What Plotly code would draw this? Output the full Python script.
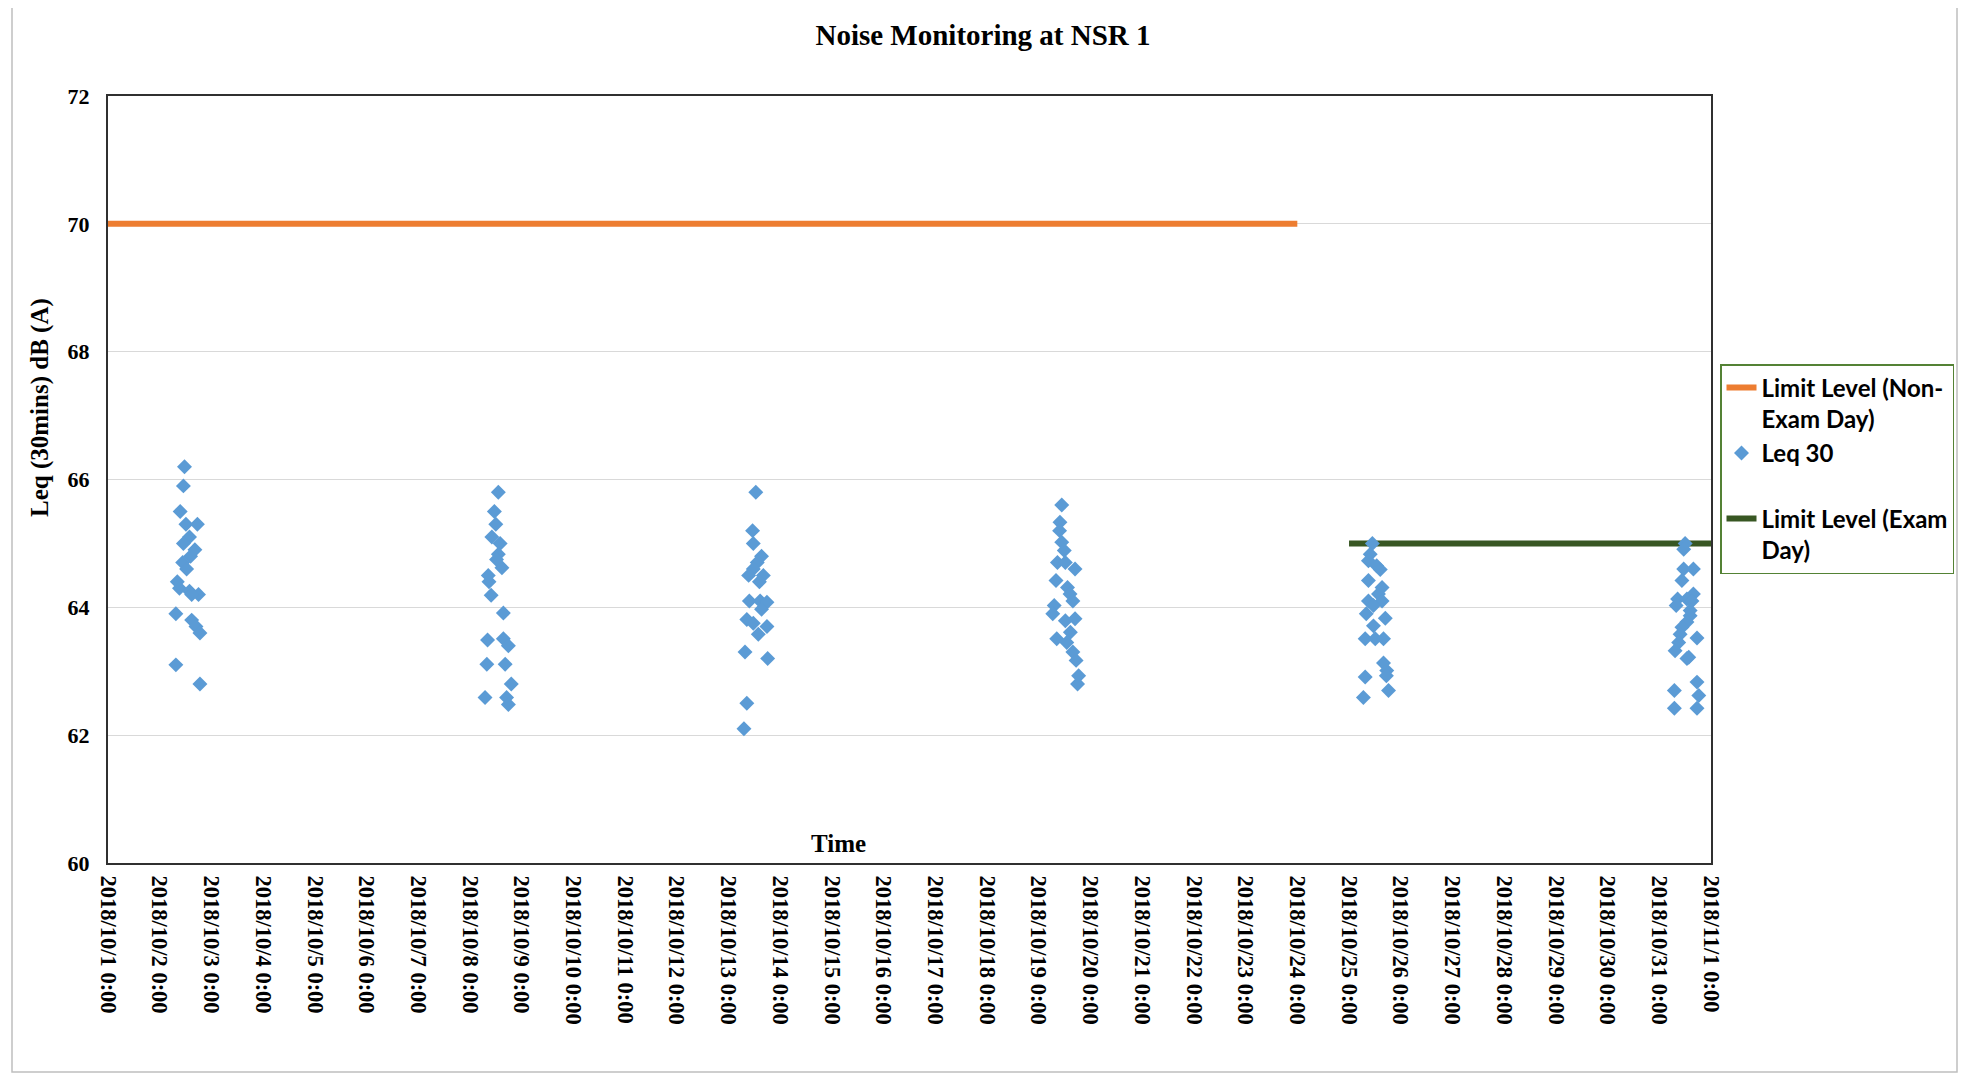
import plotly.graph_objects as go
import pandas as pd

# ---------------- data ----------------
title_text = "Noise Monitoring at NSR 1"
y_title = "Leq (30mins) dB (A)"
x_title = "Time"

limit_non_exam_x = ["2018-10-01 00:00", "2018-10-24 00:00"]
limit_non_exam_y = [70, 70]
limit_exam_x = ["2018-10-25 00:00", "2018-11-01 00:00"]
limit_exam_y = [65, 65]

day1 = "2018-10-02"
day1_times = ["11:30", "11:00", "09:30", "12:10", "17:30", "13:50", "11:00", "16:20", "14:20", "10:40", "12:30",
              "08:10", "09:10", "13:50", "18:00", "14:50", "07:30", "14:50", "16:50", "18:40", "07:30", "18:40"]
day1_values = [66.2, 65.9, 65.5, 65.3, 65.3, 65.1, 65.0, 64.9, 64.8, 64.7, 64.6,
               64.4, 64.3, 64.25, 64.2, 64.2, 63.9, 63.8, 63.7, 63.6, 63.1, 62.8]

day2 = "2018-10-08"
day2_times = ["13:10", "11:20", "12:00", "10:10", "14:00", "13:10", "12:20", "14:50", "08:30", "08:50", "09:50",
              "15:30", "08:10", "15:30", "17:50", "07:50", "16:20", "19:10", "07:00", "17:00", "17:50"]
day2_values = [65.8, 65.5, 65.3, 65.1, 65.0, 64.83, 64.75, 64.62, 64.5, 64.4, 64.19,
               63.91, 63.49, 63.51, 63.4, 63.11, 63.11, 62.8, 62.59, 62.59, 62.48]

day3 = "2018-10-13"
day3_times = ["12:40", "11:10", "11:30", "15:20", "13:20", "11:30", "09:20", "16:10", "14:20", "09:40", "14:40",
              "17:50", "15:20", "08:30", "11:30", "17:50", "13:50", "07:40", "18:10", "08:30", "07:10"]
day3_values = [65.8, 65.2, 65.0, 64.8, 64.7, 64.6, 64.5, 64.5, 64.4, 64.1, 64.1,
               64.08, 63.97, 63.81, 63.75, 63.7, 63.58, 63.3, 63.2, 62.5, 62.1]

day4 = "2018-10-19"
day4_times = ["10:40", "09:50", "09:40", "10:40", "11:50", "08:40", "12:20", "16:50", "08:00", "13:20", "14:30",
              "15:50", "07:10", "06:30", "12:20", "16:50", "14:40", "08:20", "13:00", "15:50", "17:20", "18:30", "18:00"]
day4_values = [65.6, 65.33, 65.2, 65.02, 64.89, 64.7, 64.7, 64.6, 64.42, 64.31, 64.21,
               64.1, 64.03, 63.9, 63.79, 63.82, 63.61, 63.51, 63.45, 63.3, 63.17, 62.93, 62.8]

day5 = "2018-10-25"
day5_times = ["10:50", "09:50", "09:00", "12:50", "14:30", "09:00", "15:20", "13:40", "09:00", "15:20", "11:20",
              "08:00", "16:50", "11:20", "07:30", "12:10", "16:00", "16:00", "17:30", "17:20", "07:30", "18:20", "06:40"]
day5_values = [65.0, 64.83, 64.73, 64.65, 64.59, 64.42, 64.31, 64.21, 64.1, 64.1, 64.03,
               63.9, 63.83, 63.71, 63.51, 63.51, 63.51, 63.13, 63.01, 62.93, 62.91, 62.7, 62.59]

day6 = "2018-10-31"
day6_times = ["12:00", "11:20", "11:20", "15:50", "10:30", "15:50", "08:30", "12:50", "15:10", "07:50", "14:20",
              "14:20", "12:50", "10:30", "09:40", "17:30", "09:00", "07:20", "13:40", "12:50", "17:30", "07:00",
              "18:20", "07:00", "17:30"]
day6_values = [65.0, 64.91, 64.6, 64.6, 64.42, 64.21, 64.13, 64.13, 64.1, 64.03, 63.95,
               63.87, 63.77, 63.69, 63.58, 63.52, 63.45, 63.32, 63.22, 63.2, 62.83, 62.7,
               62.62, 62.42, 62.42]

tick_start = "2018-10-01"
tick_end = "2018-11-01"
y_ticks = [60, 62, 64, 66, 68, 70, 72]

# ---------------- build ----------------
days = [(day1, day1_times, day1_values), (day2, day2_times, day2_values), (day3, day3_times, day3_values),
        (day4, day4_times, day4_values), (day5, day5_times, day5_values), (day6, day6_times, day6_values)]
leq_x, leq_y = [], []
for d, ts, vs in days:
    leq_x += [f"{d} {t}" for t in ts]
    leq_y += vs

tick_dates = pd.date_range(tick_start, tick_end, freq="D")
tick_vals = [d.strftime("%Y-%m-%d") for d in tick_dates]
tick_text = [f"{d.year}/{d.month}/{d.day} 0:00" for d in tick_dates]

serif = "Liberation Serif"
legend_font = "Lato"

# plot area geometry (pixels)
L, T, PW, PH = 100, 88, 1603, 767
W, H = 1966, 1076

fig = go.Figure()
fig.add_trace(go.Scatter(x=limit_non_exam_x, y=limit_non_exam_y, mode="lines",
                         name="Limit Level (Non-<br>Exam Day)", legendrank=1,
                         line=dict(color="#ED7D31", width=6)))
fig.add_trace(go.Scatter(x=limit_exam_x, y=limit_exam_y, mode="lines",
                         name="Limit Level (Exam<br>Day)", legendrank=3,
                         line=dict(color="#385723", width=6)))
fig.add_trace(go.Scatter(x=leq_x, y=leq_y, mode="markers", name="Leq 30<br> ", legendrank=2,
                         marker=dict(symbol="diamond", size=11.5, color="#5B9BD5")))

fig.update_layout(
    width=W, height=H,
    margin=dict(l=L, r=W - L - PW, t=T, b=H - T - PH, autoexpand=False),
    paper_bgcolor="white", plot_bgcolor="white",
    title=dict(text=title_text, x=975 / W, xanchor="center", y=1 - 27 / H, yanchor="middle",
               font=dict(family=serif, size=29, color="black", weight="bold")),
    showlegend=True,
    legend=dict(x=1612 / PW, y=(PH - 268) / PH, xanchor="left", yanchor="top",
                bordercolor="#548235", borderwidth=1.5, bgcolor="white",
                font=dict(family=legend_font, size=24, color="black", weight="bold"),
                valign="top", itemwidth=30, tracegroupgap=0),
    xaxis=dict(type="date", range=[tick_start, tick_end], tickmode="array", tickvals=tick_vals,
               ticktext=tick_text, tickangle=90, showgrid=False, zeroline=False,
               showline=True, mirror=True, linecolor="#303030", linewidth=2, ticks="",
               ticklabelstandoff=6,
               tickfont=dict(family=serif, size=22.5, color="black", weight="bold")),
    yaxis=dict(range=[60, 72], tickmode="array", tickvals=y_ticks, showgrid=True, gridcolor="#D9D9D9",
               gridwidth=1.2, zeroline=False, showline=True, mirror=True, linecolor="#303030", linewidth=2,
               ticks="", ticklabelstandoff=12,
               tickfont=dict(family=serif, size=22, color="black", weight="bold")),
    annotations=[
        dict(text=y_title, xref="paper", yref="paper", x=-68 / PW, y=(PH - 312) / PH,
             textangle=-90, showarrow=False, xanchor="center", yanchor="middle",
             font=dict(family=serif, size=25, color="black", weight="bold")),
        dict(text=x_title, xref="paper", yref="paper", x=730 / PW, y=20 / PH,
             showarrow=False, xanchor="center", yanchor="middle",
             font=dict(family=serif, size=25, color="black", weight="bold")),
    ],
    shapes=[dict(type="rect", xref="paper", yref="paper",
                 x0=-96 / PW, x1=1849 / PW,
                 y0=-209 / PH, y1=(PH + 90) / PH,
                 line=dict(color="#BFBFBF", width=1.5), fillcolor="rgba(0,0,0,0)", layer="below")],
)

fig.write_html("out.html")
